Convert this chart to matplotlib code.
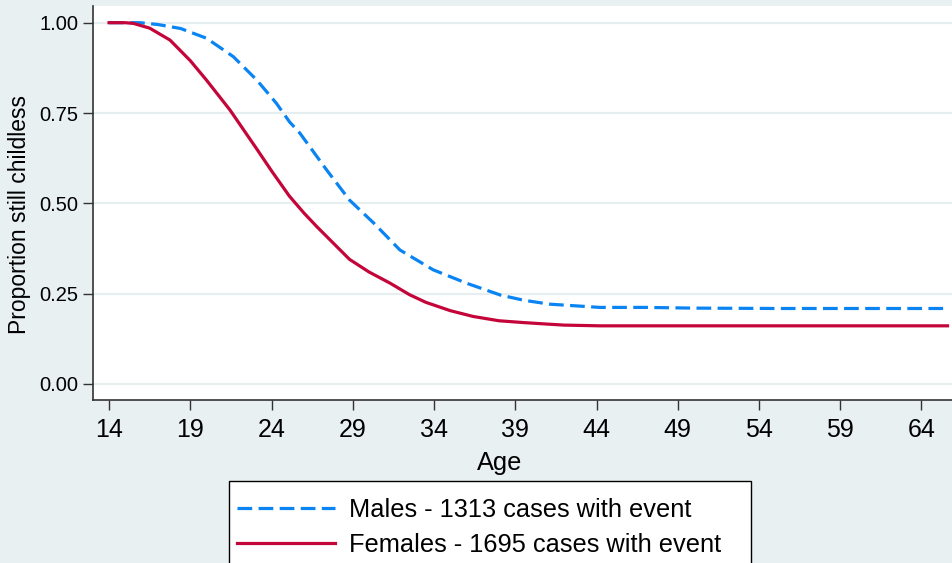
import matplotlib
matplotlib.use("Agg")
import matplotlib.pyplot as plt
from matplotlib.lines import Line2D
from matplotlib.patches import Rectangle

# ---- data ----
male_age = [14, 15.9, 17, 18.4, 20.0, 21.65, 23.1, 24.3, 25.1, 25.75, 27.4, 28.8,
            30.3, 31.9, 33.95, 36.0, 38.1, 39.5, 41.1, 44.2, 47, 50, 55, 60, 65.6]
male_surv = [1.0, 1.0, 0.995, 0.984, 0.957, 0.906, 0.841, 0.777, 0.726, 0.694, 0.592, 0.509,
             0.445, 0.371, 0.316, 0.279, 0.246, 0.232, 0.221, 0.212, 0.212, 0.210, 0.209, 0.209, 0.209]

female_age = [14, 15, 15.5, 16.5, 17.75, 19, 20, 21.45, 23.1, 24, 25.1, 26, 26.8, 27.8,
              28.8, 30, 31.3, 32.5, 33.5, 35, 36.4, 38, 39.5, 40.9, 42, 44.2, 50, 55, 60, 65.6]
female_surv = [1.0, 1.0, 0.998, 0.985, 0.952, 0.895, 0.841, 0.758, 0.650, 0.590, 0.520, 0.473,
               0.435, 0.390, 0.345, 0.310, 0.279, 0.247, 0.226, 0.203, 0.187, 0.175, 0.170,
               0.166, 0.163, 0.161, 0.161, 0.161, 0.161, 0.161]

x_ticks = [14, 19, 24, 29, 34, 39, 44, 49, 54, 59, 64]
y_ticks = [0.0, 0.25, 0.5, 0.75, 1.0]
y_ticklabels = ["0.00", "0.25", "0.50", "0.75", "1.00"]
labels = ["Males - 1313 cases with event", "Females - 1695 cases with event"]

# ---- style ----
plt.rcParams['font.family'] = ['Liberation Sans', 'DejaVu Sans']
BG = '#E8F0F2'
BLUE = '#0A84F2'
RED = '#C4053A'
W, H = 952, 563

fig = plt.figure(figsize=(W / 100, H / 100), dpi=100, facecolor=BG)
ax = fig.add_axes([93 / W, 1 - 400 / H, 1 - 93 / W, (400 - 6) / H])
ax.set_facecolor('white')

for y in y_ticks:
    ax.axhline(y, color='#E6EEF0', lw=1.6, zorder=1)

dash = (0, (4.6, 2.0))
ax.plot(male_age, male_surv, color=BLUE, lw=2.3, linestyle=dash, zorder=3)
ax.plot(female_age, female_surv, color=RED, lw=2.3, zorder=4)

ax.set_xlim(13.015, 65.877)
ax.set_ylim(-0.0443, 1.0462)

ax.set_xticks(x_ticks)
ax.set_xticklabels([str(t) for t in x_ticks], fontsize=18)
ax.set_yticks(y_ticks)
ax.set_yticklabels(y_ticklabels, fontsize=14.5)
ax.tick_params(axis='both', length=7, width=1.0, color='#333333')
ax.tick_params(axis='y', pad=3.5)
ax.tick_params(axis='x', pad=6)

for s in ['top', 'right']:
    ax.spines[s].set_visible(False)
for s in ['left', 'bottom']:
    ax.spines[s].set_color('#333333')
    ax.spines[s].set_linewidth(1.2)

ax.set_xlabel('Age', fontsize=18.3)
ax.xaxis.set_label_coords((500 - 93) / (W - 93), (400 - 463) / 394, transform=ax.transAxes)
ax.xaxis.label.set_verticalalignment('center')
ax.set_ylabel('Proportion still childless', fontsize=16.5)
ax.yaxis.set_label_coords((20 - 93) / (W - 93), (400 - 215) / 394, transform=ax.transAxes)
ax.yaxis.label.set_verticalalignment('center')

# legend frame (bottom runs past the figure edge as in the reference)
frame = Rectangle((229 / W, 1 - 572 / H), (751 - 229) / W, (572 - 481) / H,
                  transform=fig.transFigure, facecolor='white', edgecolor='black',
                  linewidth=1.0, zorder=5)
fig.add_artist(frame)

handles = [Line2D([], [], color=BLUE, lw=2.3, linestyle=dash),
           Line2D([], [], color=RED, lw=2.3)]
leg = fig.legend(handles, labels, loc='upper left',
                 bbox_to_anchor=(237 / W, 1 - 498 / H), fontsize=18.3,
                 frameon=False, handlelength=3.85, handletextpad=0.55,
                 labelspacing=0.42, borderpad=0.0, borderaxespad=0)
leg.set_zorder(6)

fig.savefig('out.png', dpi=100, facecolor=BG)
